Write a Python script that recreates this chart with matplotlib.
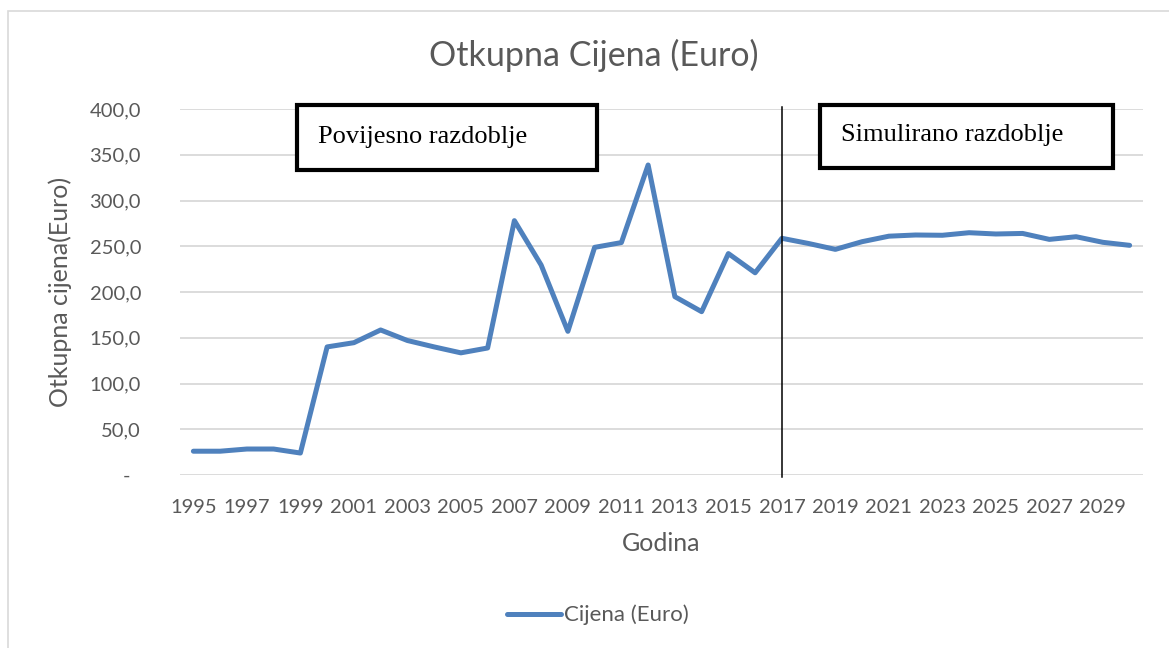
import matplotlib
matplotlib.use('Agg')
import matplotlib.pyplot as plt
from matplotlib.patches import Rectangle
from matplotlib.ticker import FuncFormatter

# data
years = list(range(1995, 2031))
prices = [26.0, 26.0, 28.4, 28.4, 24.0, 140.0, 144.6, 158.5, 147.0, 140.0,
          133.5, 138.8, 278.0, 229.5, 157.0, 248.8, 254.0, 338.8, 194.9, 178.5,
          242.0, 221.0, 258.7, 253.0, 246.6, 255.0, 261.0, 262.3, 262.0, 264.8,
          263.4, 264.0, 257.5, 260.4, 254.3, 251.0]
y_ticks = [0, 50, 100, 150, 200, 250, 300, 350, 400]
x_ticks = years[::2]
split_year = 2017
title = 'Otkupna Cijena (Euro)'
series_name = 'Cijena (Euro)'
period_labels = ['Povijesno razdoblje', 'Simulirano razdoblje']

W, H = 1169, 648
TEXT = '#595959'
BLUE = '#4F81BD'
GRID = '#D9D9D9'
SANS = 'Lato'

fig = plt.figure(figsize=(W / 100, H / 100), dpi=100)
fig.patch.set_facecolor('white')


def px(x, y):
    """pixel (top-left origin) -> figure fraction"""
    return x / W, 1 - y / H


# outer chart-area border (only top/left visible)
fig.patches.append(Rectangle(px(7.5, 660), (W + 20) / W, (660 - 10.5) / H,
                             transform=fig.transFigure, fill=False,
                             edgecolor=GRID, linewidth=1.2))

left, bottom = px(180, 475)
right, top = px(1143, 109)
ax = fig.add_axes([left, bottom, right - left, top - bottom])

line, = ax.plot(years, prices, color=BLUE, linewidth=3.6,
                solid_joinstyle='round', solid_capstyle='round',
                label=series_name, zorder=3)

# divider between historical and simulated period
ax.plot([split_year, split_year], [-2, 402], color='black', linewidth=1.1,
        clip_on=False, zorder=4)

ax.set_xlim(years[0] - 0.5, years[-1] + 0.5)
ax.set_ylim(0, 400)
ax.set_yticks(y_ticks)
ax.set_xticks(x_ticks)
ax.yaxis.set_major_formatter(FuncFormatter(
    lambda v, pos: '-  ' if v == 0 else f'{v:.1f}'.replace('.', ',')))

ax.grid(axis='y', color=GRID, linewidth=1.3)
ax.set_axisbelow(True)
for s in ax.spines.values():
    s.set_visible(False)
ax.tick_params(axis='both', length=0, labelsize=14.5, labelcolor=TEXT)
ax.tick_params(axis='y', pad=28)
ax.tick_params(axis='x', pad=17)
for lab in ax.get_xticklabels() + ax.get_yticklabels():
    lab.set_fontfamily(SANS)

ax.set_xlabel('Godina', fontsize=18, color=TEXT, family=SANS, labelpad=12)
fig.text(*px(60, 292), 'Otkupna cijena(Euro)', rotation=90, fontsize=18,
         color=TEXT, family=SANS, ha='center', va='center')
fig.text(*px(594, 55), title, fontsize=24.5, color=TEXT, family=SANS,
         ha='center', va='center')

# text boxes for the two periods
boxes = [(297, 105, 597, 170), (820, 105, 1113, 168)]
for (x0, y0, x1, y1), label in zip(boxes, period_labels):
    fig.patches.append(Rectangle(px(x0, y1), (x1 - x0) / W, (y1 - y0) / H,
                                 transform=fig.transFigure, facecolor='white',
                                 edgecolor='black', linewidth=3, zorder=5))
    fig.text(*px(x0 + 21, (y0 + y1) / 2 - 1), label, fontsize=19,
             color='black', family='Liberation Serif', ha='left',
             va='center', zorder=6)

fig.legend(handles=[line], loc='center', bbox_to_anchor=px(598, 615),
           frameon=False, handlelength=2.4, handletextpad=0.15,
           labelcolor=TEXT, prop={'family': SANS, 'size': 16})

fig.savefig('out.png', dpi=100)
